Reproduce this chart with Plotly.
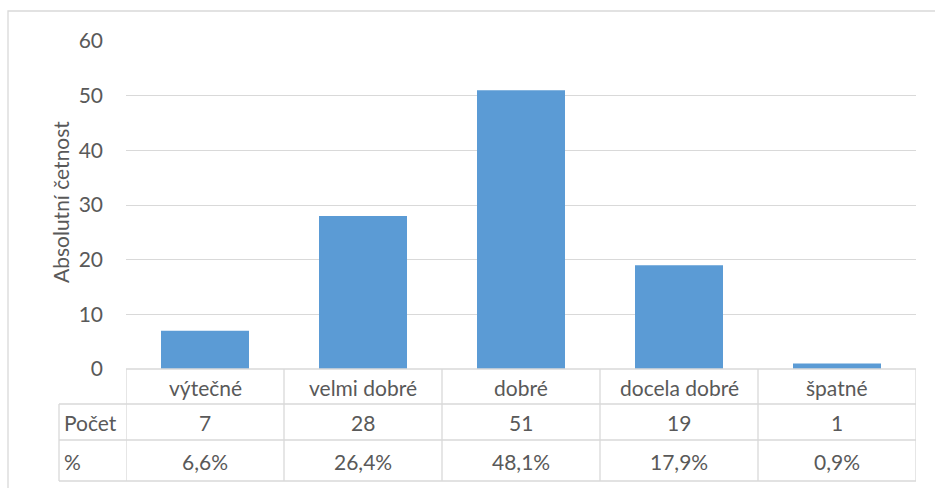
import plotly.graph_objects as go

categories = ["výtečné", "velmi dobré", "dobré", "docela dobré", "špatné"]
counts = [7, 28, 51, 19, 1]
percents = ["6,6%", "26,4%", "48,1%", "17,9%", "0,9%"]
row_labels = ["Počet", "%"]
y_ticks = [0, 10, 20, 30, 40, 50, 60]

W, H = 935, 488
L, R = 126, 916
T, B = 41, 369
FONT = "Lato, 'Open Sans', sans-serif"
TXT = "#595959"
GRID = "#d9d9d9"

fig = go.Figure()
fig.add_trace(go.Bar(x=list(range(len(categories))), y=counts,
                     marker=dict(color="#5b9bd5", line=dict(width=0)),
                     width=0.557, hoverinfo="skip"))

# paper coordinates relative to plot area
def pyp(pix):
    return (B - pix) / (B - T)

def pxp(pix):
    return (pix - L) / (R - L)

shapes = []
line = dict(color=GRID, width=1.3)
# horizontal table lines
shapes.append(dict(type="line", xref="paper", yref="paper", x0=0, x1=1, y0=pyp(369), y1=pyp(369), line=line))
for yy in [404, 440, 481]:
    shapes.append(dict(type="line", xref="paper", yref="paper", x0=pxp(59), x1=1, y0=pyp(yy), y1=pyp(yy), line=line))
# vertical lines
shapes.append(dict(type="line", xref="paper", yref="paper", x0=pxp(59), x1=pxp(59), y0=pyp(404), y1=pyp(481), line=line))
for i in range(len(categories) + 1):
    shapes.append(dict(type="line", xref="x", yref="paper", x0=i - 0.5, x1=i - 0.5, y0=pyp(369), y1=pyp(481), line=line))
# chart border
shapes.append(dict(type="rect", xref="paper", yref="paper", x0=pxp(8), x1=pxp(945), y0=pyp(11), y1=pyp(500),
                   line=dict(color="#d9d9d9", width=1.3), layer="below"))

annotations = []
fs = 21
def ann(x, y, text, xref="x", xanchor="center", angle=0):
    return dict(x=x, y=y, xref=xref, yref="paper", text=text, showarrow=False,
                xanchor=xanchor, yanchor="middle", textangle=angle,
                font=dict(size=fs, color=TXT, family=FONT))

for i, c in enumerate(categories):
    annotations.append(ann(i, pyp(387), c))
    annotations.append(ann(i, pyp(422.5), str(counts[i])))
    annotations.append(ann(i, pyp(461), percents[i]))
for lbl, yy in zip(row_labels, [422.5, 461]):
    annotations.append(ann(pxp(62), pyp(yy), lbl, xref="paper", xanchor="left"))
annotations.append(ann(pxp(60), pyp(202), "Absolutní četnost", xref="paper", xanchor="center", angle=-90))

fig.update_layout(
    width=W, height=H,
    margin=dict(l=L, r=W - R, t=T, b=H - B, pad=0),
    paper_bgcolor="white", plot_bgcolor="white",
    showlegend=False,
    shapes=shapes, annotations=annotations,
    xaxis=dict(range=[-0.5, len(categories) - 0.5], showticklabels=False, showgrid=False,
               zeroline=False, showline=False, ticks="", fixedrange=True),
    yaxis=dict(range=[0, 60], tickvals=y_ticks, showgrid=True, gridcolor=GRID, gridwidth=1.3,
               zeroline=False, showline=False, ticks="", ticklabelstandoff=22,
               tickfont=dict(size=fs, color=TXT, family=FONT)),
    font=dict(family=FONT, color=TXT),
)

fig.write_html("out.html", config={"displayModeBar": False},
               post_script="document.body.style.margin='0';document.body.style.overflow='hidden';")
